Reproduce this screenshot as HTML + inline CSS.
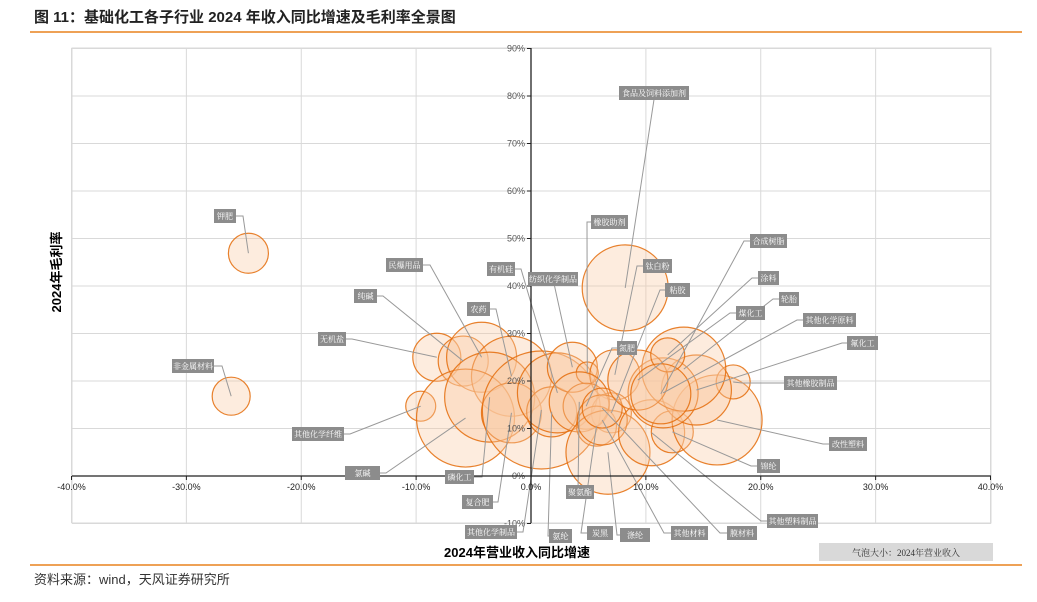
<!DOCTYPE html>
<html><head><meta charset="utf-8"><style>
body{margin:0;width:1037px;height:597px;background:#fff;overflow:hidden;font-family:"Liberation Sans","Noto Sans CJK SC",sans-serif}
</style></head><body>
<svg id="c" width="1037" height="597" xmlns="http://www.w3.org/2000/svg">
<text x="34" y="22" font-size="15" font-weight="bold" fill="#222" font-family="Liberation Sans,Noto Sans CJK SC,sans-serif">图 11：基础化工各子行业 2024 年收入同比增速及毛利率全景图</text>
<line x1="30" y1="32" x2="1022" y2="32" stroke="#e8821e" stroke-width="1.5"/>
<line x1="30" y1="565" x2="1022" y2="565" stroke="#e8821e" stroke-width="1.5"/>
<text x="34" y="584" font-size="13" fill="#333" font-family="Liberation Sans,Noto Sans CJK SC,sans-serif">资料来源：wind，天风证券研究所</text>
<g id="grid"></g><g id="bubbles"></g><g id="leaders"></g><g id="axes"></g><g id="labels"></g>
<rect x="819" y="543" width="174" height="18" fill="#d9d9d9"/>
<text x="906" y="556" font-size="9" text-anchor="middle" fill="#333" font-family="Liberation Serif,Noto Serif CJK SC,serif">气泡大小：2024年营业收入</text>
<text x="517" y="557" font-size="13" font-weight="bold" text-anchor="middle" fill="#000" font-family="Liberation Sans,Noto Sans CJK SC,sans-serif">2024年营业收入同比增速</text>
<text transform="translate(61,272) rotate(-90)" font-size="13" font-weight="bold" text-anchor="middle" fill="#000" font-family="Liberation Sans,Noto Sans CJK SC,sans-serif">2024年毛利率</text>
</svg>
<script>
const names=["钾肥","非金属材料","其他化学纤维","无机盐","纯碱","民爆用品","农药","氯碱","磷化工","复合肥","其他化学制品","氨纶","有机硅","纺织化学制品","橡胶助剂","食品及饲料添加剂","钛白粉","粘胶","氮肥","聚氨酯","炭黑","涤纶","其他材料","膜材料","其他塑料制品","锦纶","改性塑料","其他橡胶制品","氟化工","其他化学原料","轮胎","煤化工","涂料","合成树脂"];
const growth=[-24.6,-26.1,-9.6,-8.2,-5.9,-4.3,-1.7,-5.7,-3.6,-1.7,0.9,1.8,2.3,3.6,4.9,8.2,7.3,7.0,4.8,4.2,5.7,6.7,6.2,6.2,10.5,12.3,16.2,17.6,14.4,11.5,13.3,9.3,11.9,11.3];
const margin=[46.9,16.8,14.7,25.0,24.2,25.0,21.0,12.2,16.6,13.3,13.9,13.5,17.5,22.9,21.7,39.6,21.3,13.3,14.7,15.6,10.5,5.0,11.8,14.3,9.1,9.3,11.8,19.8,18.1,17.5,22.5,20.2,25.5,17.3];
const revenue=[400,361,225,576,625,1225,1600,2401,2025,900,3481,625,1600,625,121,1849,625,400,529,900,400,1764,625,400,1089,441,2025,289,1225,1225,1764,900,289,900];
const xTicks=[-40,-30,-20,-10,0,10,20,30,40];
const yTicks=[-10,0,10,20,30,40,50,60,70,80,90];
// label box layout [left,right,centerY,elbowX]
const lab=[[214,236,216,243],[172,214,366,222],[292,344,434,350],[318,346,339,352],[354,377,296,383],[386,423,265,430],[467,490,309,496],[345,380,473,386],[445,474,477,482],[462,493,502,498],[465,517,532,523],[549,572,536,548],[487,515,269,521],[528,578,279,553],[591,628,222,587],[619,689,93,655],[643,672,266,637],[665,690,290,660],[617,637,348,612],[566,594,492,578],[587,613,533,581],[620,650,535,617],[671,708,533,664],[727,757,533,720],[767,818,521,761],[757,780,466,751],[829,867,444,823],[784,837,383,742],[847,878,343,842],[803,856,320,797],[779,799,299,773],[736,765,313,730],[758,779,278,752],[750,787,241,744]];
const X=v=>531+v*11.4875, Y=v=>476-v*4.75, R=s=>Math.sqrt(s);
const NS="http://www.w3.org/2000/svg";
function mk(t,a,p){const e=document.createElementNS(NS,t);for(const k in a)e.setAttribute(k,a[k]);document.getElementById(p).appendChild(e);return e;}
let e=mk('rect',{x:72,y:48,width:919,height:475,fill:'none',stroke:'#d9d9d9'},'grid');


xTicks.forEach(v=>{const l=mk('line',{x1:X(v),x2:X(v),y1:48,y2:523,stroke:'#d9d9d9'},'grid');


const t=mk('text',{x:X(v),y:490,'font-size':9,'text-anchor':'middle',fill:'#222'},'axes');t.textContent=v.toFixed(1)+'%';


const k=mk('line',{x1:X(v),x2:X(v),y1:476,y2:480,stroke:'#222'},'axes');

});
yTicks.forEach(v=>{const l=mk('line',{x1:72,x2:991,y1:Y(v),y2:Y(v),stroke:'#d9d9d9'},'grid');


const t=mk('text',{x:525,y:Y(v)+3,'font-size':9,'text-anchor':'end',fill:'#555'},'axes');t.textContent=v+'%';


const k=mk('line',{x1:527,x2:531,y1:Y(v),y2:Y(v),stroke:'#222'},'axes');

});
let ax=mk('line',{x1:72,x2:991,y1:Y(0),y2:Y(0),stroke:'#222','stroke-width':1.3},'axes');


let ay=mk('line',{x1:X(0),x2:X(0),y1:48,y2:523,stroke:'#222','stroke-width':1.3},'axes');


names.forEach((n,i)=>{const cx=X(growth[i]),cy=Y(margin[i]);
const c=mk('circle',{cx:cx,cy:cy,r:R(revenue[i]),fill:'rgba(250,200,160,0.35)',stroke:'rgba(228,108,10,0.85)','stroke-width':1.2},'bubbles');


const L=lab[i];const left=L[0]<cx;const bx=left?L[1]:L[0];
const p=mk('polyline',{points:`${bx},${L[2]} ${L[3]},${L[2]} ${cx},${cy}`,fill:'none',stroke:'#999','stroke-width':1},'leaders');


const r=mk('rect',{x:L[0],y:L[2]-7,width:L[1]-L[0],height:14,fill:'#8c8c8c'},'labels');


const t=mk('text',{x:(L[0]+L[1])/2,y:L[2]+3,'font-size':8,'text-anchor':'middle',fill:'#fff','font-family':'Liberation Serif,Noto Serif CJK SC,serif'},'labels');t.textContent=n;

});
</script>
</body></html>
